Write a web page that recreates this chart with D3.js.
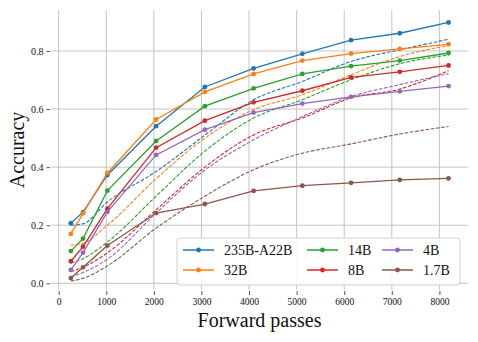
<!DOCTYPE html>
<html>
<head>
<meta charset="utf-8">
<script src="https://cdn.jsdelivr.net/npm/d3@7"></script>
<style>
  body { margin: 0; background: #fff; }
  text { font-family: "Liberation Serif", "DejaVu Serif", serif; }
</style>
</head>
<body>
<div id="chart"></div>
<script>
// data
const PASSES = [256, 512, 1024, 2048, 3072, 4096, 5120, 6144, 7168, 8192];
const MODELS = ["235B-A22B", "32B", "14B", "8B", "4B", "1.7B"];
const COLORS = ["#1f77b4", "#ff7f0e", "#2ca02c", "#d62728", "#9467bd", "#8c564b"];

// measured accuracy (solid lines with markers)
const ACC_235B = [0.207, 0.245, 0.373, 0.541, 0.676, 0.740, 0.790, 0.837, 0.861, 0.898];
const ACC_32B  = [0.170, 0.241, 0.380, 0.564, 0.659, 0.721, 0.767, 0.791, 0.807, 0.823];
const ACC_14B  = [0.111, 0.154, 0.319, 0.490, 0.610, 0.671, 0.721, 0.748, 0.767, 0.793];
const ACC_8B   = [0.076, 0.126, 0.257, 0.467, 0.560, 0.623, 0.663, 0.709, 0.728, 0.750];
const ACC_4B   = [0.046, 0.106, 0.246, 0.442, 0.529, 0.588, 0.619, 0.642, 0.661, 0.679];
const ACC_17B  = [0.018, 0.055, 0.130, 0.242, 0.273, 0.318, 0.336, 0.346, 0.356, 0.361];

// dashed reference curves
const REF_235B = [0.200, 0.205, 0.280, 0.385, 0.510, 0.632, 0.695, 0.764, 0.804, 0.840];
const REF_32B  = [0.132, 0.138, 0.200, 0.360, 0.500, 0.598, 0.649, 0.718, 0.781, 0.819];
const REF_14B  = [0.070, 0.085, 0.142, 0.300, 0.455, 0.569, 0.632, 0.701, 0.756, 0.786];
const REF_8B   = [0.040, 0.055, 0.105, 0.253, 0.400, 0.511, 0.569, 0.638, 0.669, 0.732];
const REF_4B   = [0.022, 0.037, 0.083, 0.242, 0.390, 0.494, 0.574, 0.643, 0.684, 0.722];
const REF_17B  = [0.008, 0.017, 0.060, 0.190, 0.300, 0.391, 0.448, 0.480, 0.514, 0.540];

const X_TICKS = [0, 1000, 2000, 3000, 4000, 5000, 6000, 7000, 8000];
const Y_TICKS = [0.0, 0.2, 0.4, 0.6, 0.8];

const ACC = [ACC_235B, ACC_32B, ACC_14B, ACC_8B, ACC_4B, ACC_17B];
const REF = [REF_235B, REF_32B, REF_14B, REF_8B, REF_4B, REF_17B];

// frame
const FRAME_WIDTH = 478;
const FRAME_HEIGHT = 342;
const PLOT = {left: 51, right: 468, top: 10, bottom: 290};

const FRAME = d3.select("#chart")
                .append("svg")
                  .attr("width", FRAME_WIDTH)
                  .attr("height", FRAME_HEIGHT);

const X_SCALE = d3.scaleLinear()
                  .domain([-161, 8601])
                  .range([PLOT.left, PLOT.right]);
const Y_SCALE = d3.scaleLinear()
                  .domain([-0.023, 0.941])
                  .range([PLOT.bottom, PLOT.top]);

// grid
FRAME.append("g")
  .selectAll("line")
  .data(X_TICKS)
  .enter()
  .append("line")
    .attr("x1", (d) => X_SCALE(d))
    .attr("x2", (d) => X_SCALE(d))
    .attr("y1", PLOT.top)
    .attr("y2", PLOT.bottom)
    .attr("stroke", "#c4c4c4")
    .attr("stroke-width", 1);

FRAME.append("g")
  .selectAll("line")
  .data(Y_TICKS)
  .enter()
  .append("line")
    .attr("x1", PLOT.left)
    .attr("x2", PLOT.right)
    .attr("y1", (d) => Y_SCALE(d))
    .attr("y2", (d) => Y_SCALE(d))
    .attr("stroke", "#c4c4c4")
    .attr("stroke-width", 1);

// axes (no spines, just ticks)
const X_AXIS = FRAME.append("g")
  .attr("transform", "translate(0," + (PLOT.bottom + 1) + ")")
  .call(d3.axisBottom(X_SCALE).tickValues(X_TICKS).tickSize(4).tickPadding(3).tickFormat(d3.format("d")));
X_AXIS.select(".domain").remove();
X_AXIS.selectAll("line").attr("stroke", "#555");
X_AXIS.selectAll("text").attr("font-size", "9.5px").attr("fill", "#111")
  .style("font-family", "'Liberation Serif', serif");

const Y_AXIS = FRAME.append("g")
  .attr("transform", "translate(" + (PLOT.left - 1) + ",0)")
  .call(d3.axisLeft(Y_SCALE).tickValues(Y_TICKS).tickSize(3.5).tickPadding(3).tickFormat(d3.format(".1f")));
Y_AXIS.select(".domain").remove();
Y_AXIS.selectAll("line").attr("stroke", "#555");
Y_AXIS.selectAll("text").attr("font-size", "10px").attr("fill", "#111")
  .style("font-family", "'Liberation Serif', serif");

// lines
const LINE = d3.line()
  .x((d, i) => X_SCALE(PASSES[i]))
  .y((d) => Y_SCALE(d));

MODELS.forEach((m, k) => {
  // measured curve
  FRAME.append("path")
    .datum(ACC[k])
    .attr("d", LINE)
    .attr("fill", "none")
    .attr("stroke", COLORS[k])
    .attr("stroke-width", 1.3);

  FRAME.append("g")
    .selectAll("circle")
    .data(ACC[k])
    .enter()
    .append("circle")
      .attr("cx", (d, i) => X_SCALE(PASSES[i]))
      .attr("cy", (d) => Y_SCALE(d))
      .attr("r", 2.4)
      .attr("fill", COLORS[k]);

  // dashed curve
  FRAME.append("path")
    .datum(REF[k])
    .attr("d", LINE.curve(d3.curveMonotoneX))
    .attr("fill", "none")
    .attr("stroke", COLORS[k])
    .attr("stroke-width", 1.1)
    .attr("stroke-dasharray", "3.7,1.6");
  LINE.curve(d3.curveLinear);
});

// axis titles
FRAME.append("text")
  .attr("x", (PLOT.left + PLOT.right) / 2)
  .attr("y", 327)
  .attr("text-anchor", "middle")
  .attr("font-size", "20px")
  .attr("fill", "#111")
  .text("Forward passes");

FRAME.append("text")
  .attr("transform", "translate(24," + ((PLOT.top + PLOT.bottom) / 2) + ") rotate(-90)")
  .attr("text-anchor", "middle")
  .attr("font-size", "20px")
  .attr("fill", "#111")
  .text("Accuracy");

// legend
const LEGEND = FRAME.append("g");
LEGEND.append("rect")
  .attr("x", 177)
  .attr("y", 238)
  .attr("width", 283)
  .attr("height", 47)
  .attr("rx", 3)
  .attr("fill", "#fff")
  .attr("fill-opacity", 0.85)
  .attr("stroke", "#d0d0d0")
  .attr("stroke-width", 1);

const LEG_COLS = [183, 307, 382];
const LEG_ROWS = [250, 270];

MODELS.forEach((m, k) => {
  const cx = LEG_COLS[Math.floor(k / 2)];
  const cy = LEG_ROWS[k % 2];
  LEGEND.append("line")
    .attr("x1", cx)
    .attr("x2", cx + 31)
    .attr("y1", cy)
    .attr("y2", cy)
    .attr("stroke", COLORS[k])
    .attr("stroke-width", 1.5);
  LEGEND.append("circle")
    .attr("cx", cx + 15.5)
    .attr("cy", cy)
    .attr("r", 2.4)
    .attr("fill", COLORS[k]);
  LEGEND.append("text")
    .attr("x", cx + 41)
    .attr("y", cy + 5)
    .attr("font-size", "14px")
    .attr("fill", "#111")
    .text(m);
});
</script>
</body>
</html>
